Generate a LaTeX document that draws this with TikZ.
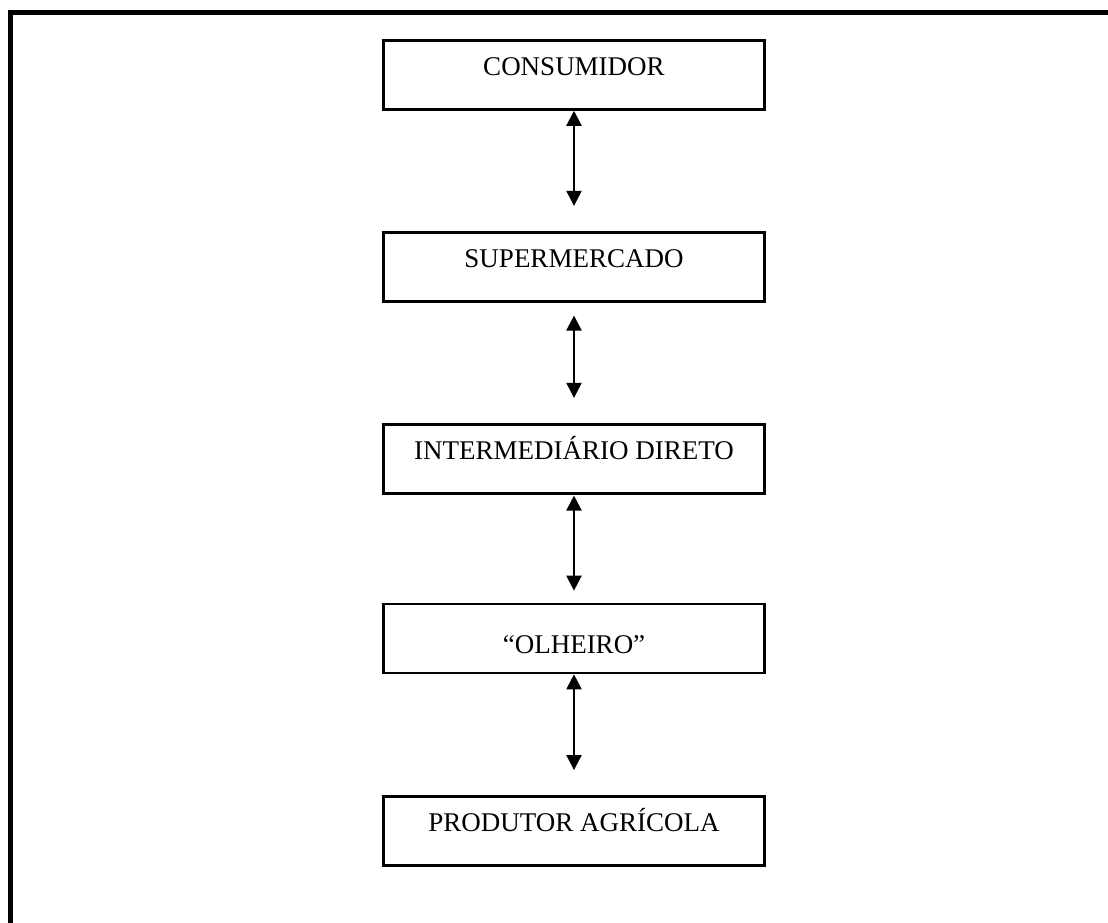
\documentclass[tikz,border=0pt]{standalone}
\usepackage{fontspec}
\setmainfont{Liberation Serif}
\usetikzlibrary{arrows.meta}
\begin{document}
\begin{tikzpicture}[x=1pt, y=-1pt,
    stage/.style={draw, line width=2.7pt, minimum width=381.5pt, inner xsep=0pt, inner ysep=0pt,
      text height=35.5pt, text depth=33.5pt, font=\fontsize{27}{31}\selectfont},
    flow/.style={line width=2.2pt, {Triangle[width=15pt,length=15pt]}-{Triangle[width=15pt,length=15pt]}}]
      \useasboundingbox (0,0) rectangle (1108,922);
      \clip (0,0) rectangle (1108,922);
      \draw[line width=4.5pt] (10.3,12.5) rectangle (1130,950);

      \node[stage] (consumidor) at (574,74.9) {CONSUMIDOR};
      \node[stage] (super) at (574,266.7) {SUPERMERCADO};
      \node[stage] (inter) at (574,458.7) {INTERMEDIÁRIO DIRETO};
      \node[stage, text height=49pt, text depth=20pt] (olheiro) at (574,638.5) {“OLHEIRO”};
      \node[stage] (produtor) at (574,830.9) {PRODUTOR AGRÍCOLA};

      \draw[flow, shorten >=25pt] (consumidor) -- (super);
      \draw[flow, shorten <=13pt, shorten >=25pt] (super) -- (inter);
      \draw[flow, shorten <=1pt, shorten >=12pt] (inter) -- (olheiro);
      \draw[flow, shorten >=25pt] (olheiro) -- (produtor);
    \end{tikzpicture}
\end{document}
